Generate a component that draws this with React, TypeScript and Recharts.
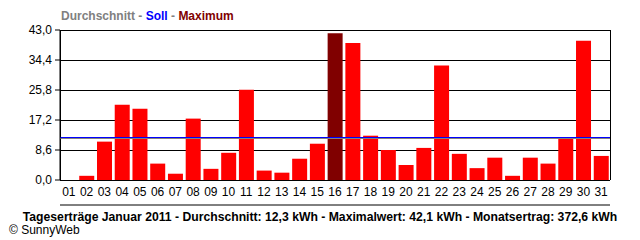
import { BarChart, Bar, XAxis, YAxis, CartesianGrid, ReferenceLine, Cell } from "recharts";

const days = [
  "01", "02", "03", "04", "05", "06", "07", "08", "09", "10", "11", "12", "13", "14", "15", "16",
  "17", "18", "19", "20", "21", "22", "23", "24", "25", "26", "27", "28", "29", "30", "31",
];
const yields = [
  0, 1.2, 11.0, 21.6, 20.4, 4.7, 1.8, 17.6, 3.2, 7.8, 25.9, 2.7, 2.1, 6.1, 10.4, 42.1,
  39.3, 12.7, 8.6, 4.3, 9.2, 32.8, 7.5, 3.4, 6.4, 1.2, 6.4, 4.7, 11.8, 39.9, 6.9,
];
const yTicks = [0, 8.6, 17.2, 25.8, 34.4, 43];
const dayBounds = [...days.map((_, i) => i), days.length];

const averageLine = 12.0;
const targetLine = 12.3;

const legendParts = [
  { text: "Durchschnitt", color: "#808080" },
  { text: "Soll", color: "#0000ff" },
  { text: "Maximum", color: "#800000" },
];
const summary = "Tageserträge Januar 2011 - Durchschnitt: 12,3 kWh - Maximalwert: 42,1 kWh - Monatsertrag: 372,6 kWh";

const font = '"Liberation Sans", Arial, sans-serif';
const fmt = (v: number) => v.toFixed(1).replace(".", ",");

export default function App() {
  const data = days.map((day, i) => ({ day, value: yields[i] }));
  const maxVal = Math.max(...yields);

  return (
    <div style={{ position: "relative", width: 640, height: 240, background: "#fff", fontFamily: font }}>
      <style>{"body{margin:0}"}</style>
      <div style={{ position: "absolute", left: 61, top: 9, fontSize: 12, fontWeight: "bold", whiteSpace: "nowrap" }}>
        {legendParts.map((p, i) => (
          <span key={p.text}>
            {i > 0 && <span style={{ color: "#808080" }}> - </span>}
            <span style={{ color: p.color }}>{p.text}</span>
          </span>
        ))}
      </div>
      <BarChart
        width={640}
        height={240}
        data={data}
        margin={{ top: 30, right: 30, left: 0, bottom: 30 }}
        barCategoryGap={1.5}
      >
        <CartesianGrid xAxisId="grid" stroke="#000" strokeOpacity={1} shapeRendering="crispEdges" />
        <XAxis
          xAxisId="grid"
          type="number"
          domain={[0, days.length]}
          ticks={dayBounds}
          interval={0}
          tick={false}
          tickSize={5}
          height={5}
          axisLine={{ stroke: "#000" }}
          tickLine={{ stroke: "#000" }}
        />
        <XAxis
          xAxisId="cat"
          dataKey="day"
          interval={0}
          tickLine={false}
          axisLine={false}
          tickSize={5}
          tickMargin={2}
          height={25}
          tick={{ fill: "#000", fontSize: 12, fontFamily: font }}
        />
        <YAxis
          domain={[0, 43]}
          ticks={yTicks}
          interval={0}
          width={60}
          tickSize={5}
          tickMargin={3}
          tickFormatter={fmt}
          axisLine={{ stroke: "#000" }}
          tickLine={{ stroke: "#000" }}
          tick={{ fill: "#000", fontSize: 12, fontFamily: font }}
        />
        <Bar dataKey="value" xAxisId="cat" isAnimationActive={false}>
          {data.map((d, i) => (
            <Cell key={i} fill={d.value === maxVal ? "#800000" : "#ff0000"} />
          ))}
        </Bar>
        <ReferenceLine xAxisId="cat" y={averageLine} stroke="#808080" strokeWidth={1} shapeRendering="crispEdges" />
        <ReferenceLine xAxisId="cat" y={targetLine} stroke="#0000ff" strokeWidth={1} shapeRendering="crispEdges" />
      </BarChart>
      <div
        style={{
          position: "absolute",
          left: 0,
          width: 640,
          top: 210,
          textAlign: "center",
          fontSize: 12.2,
          fontWeight: "bold",
          whiteSpace: "nowrap",
        }}
      >
        {summary}
      </div>
      <div style={{ position: "absolute", left: 9, top: 223, fontSize: 12, whiteSpace: "nowrap" }}>
        © SunnyWeb
      </div>
    </div>
  );
}
